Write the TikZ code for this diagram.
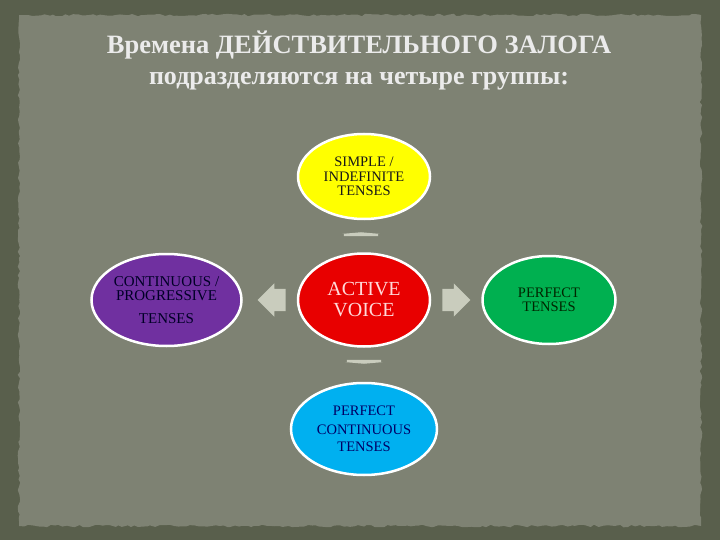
\documentclass[tikz,border=0pt]{standalone}
\usepackage{fontspec}
\setmainfont{Liberation Serif}
\usetikzlibrary{positioning}
\usetikzlibrary{shapes.geometric}
\usetikzlibrary{shapes.arrows}
\usetikzlibrary{decorations.pathmorphing}
\definecolor{bgdark}{HTML}{595F4C}
\definecolor{panel}{HTML}{7E8273}
\definecolor{arrgray}{HTML}{C9CCBD}
\definecolor{cyel}{HTML}{FFFF00}
\definecolor{cred}{HTML}{E80000}
\definecolor{cpur}{HTML}{7030A0}
\definecolor{cgrn}{HTML}{00B050}
\definecolor{cblu}{HTML}{00B0F0}

\begin{document}
\begin{tikzpicture}[x=1pt, y=-1pt,
    tense/.style={ellipse, draw=white, line width=2.5pt, align=center, inner sep=0pt,
        font=\fontsize{14.5}{14.5}\selectfont},
    blockarr/.style={single arrow, fill=arrgray, draw=none, inner xsep=0pt}]
    \useasboundingbox (0,0) rectangle (720,540);
    \fill[bgdark] (0,0) rectangle (720,540);
    \pgfmathsetseed{11}
    \fill[panel, decorate, decoration={random steps, segment length=4pt, amplitude=1.3pt}]
        (19,15) rectangle (701,526);
    \node[align=center, text=white!92!black, font=\bfseries\fontsize{26.5}{31}\selectfont] (title) at (359,61)
        {Времена  ДЕЙСТВИТЕЛЬНОГО ЗАЛОГА\\{\fontsize{26}{31}\selectfont подразделяются  на  четыре  группы:}};
    \node[tense, fill=cred, minimum width=132pt, minimum height=93pt, text=red!15!white,
        font=\fontsize{20}{21}\selectfont] (act) at (364,300) {ACTIVE\\VOICE};
    \node[tense, fill=cyel, minimum width=132pt, minimum height=85pt, text=black!90] (simp)
        [above=32pt of act] {SIMPLE /\\INDEFINITE\\TENSES};
    \node[tense, fill=cblu, minimum width=146pt, minimum height=92pt, text=blue!40!black] (pcont)
        [below=34pt of act] {PERFECT\\[5pt]CONTINUOUS\\[2.5pt]TENSES};
    \node[tense, fill=cpur, minimum width=150pt, minimum height=92pt, text=blue!15!black,
        font=\fontsize{15}{14.5}\selectfont] (cont)
        [left=54pt of act] {CONTINUOUS /\\PROGRESSIVE\\[8pt]TENSES};
    \node[tense, fill=cgrn, minimum width=133pt, minimum height=88pt, text=green!15!black] (perf)
        [right=50pt of act] {PERFECT\\TENSES};
    \node[blockarr, shape border rotate=180, minimum height=28pt, minimum width=33pt,
        inner ysep=11pt, single arrow head extend=5.5pt] (la) [left=11pt of act] {};
    \node[blockarr, minimum height=28pt, minimum width=33pt,
        inner ysep=11pt, single arrow head extend=5.5pt] (ra) [right=11pt of act] {};
    \node[blockarr, rotate=90, minimum height=4pt, minimum width=37pt, inner ysep=17pt,
        single arrow head extend=1.5pt, single arrow tip angle=170] (ua) at (361,235) {};
    \node[blockarr, rotate=270, minimum height=4pt, minimum width=37pt, inner ysep=17pt,
        single arrow head extend=1.5pt, single arrow tip angle=170] (da) at (364,361) {};
\end{tikzpicture}
\end{document}
